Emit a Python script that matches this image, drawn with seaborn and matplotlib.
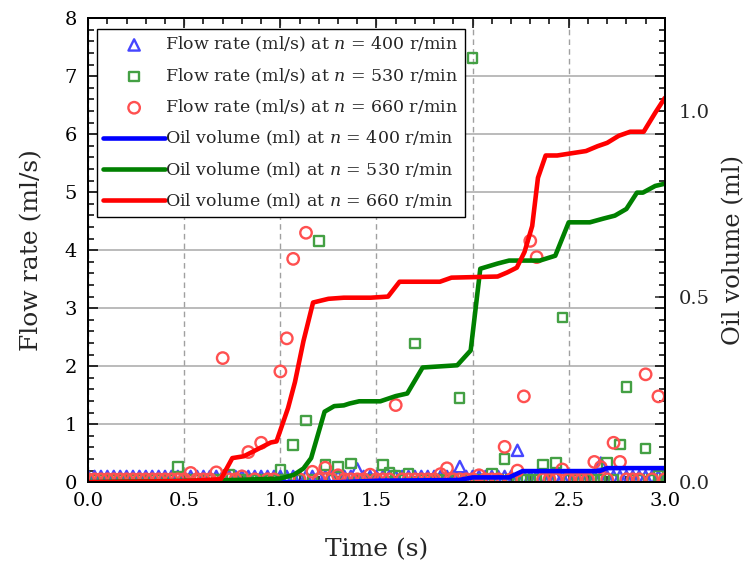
import numpy as np
import pandas as pd
import matplotlib
matplotlib.use("Agg")
import matplotlib.pyplot as plt
from matplotlib.ticker import MultipleLocator, FormatStrFormatter
import seaborn as sns

# Sampling instants of the flow-rate measurements (s)
time_s = np.linspace(0.0, 3.0, 91)

# Flow rate (ml/s) at each sampling instant
flow_400 = [
    0.1, 0.1, 0.1, 0.1, 0.1, 0.1, 0.1, 0.1, 0.1, 0.1,
    0.1, 0.1, 0.1, 0.1, 0.1, 0.1, 0.1, 0.1, 0.1, 0.1,
    0.1, 0.1, 0.1, 0.1, 0.1, 0.1, 0.1, 0.1, 0.1, 0.1,
    0.1, 0.1, 0.1, 0.1, 0.1, 0.1, 0.1, 0.1, 0.1, 0.1,
    0.1, 0.1, 0.23, 0.1, 0.1, 0.1, 0.1, 0.1, 0.1, 0.1,
    0.1, 0.1, 0.1, 0.1, 0.1, 0.1, 0.1, 0.1, 0.27, 0.1,
    0.1, 0.1, 0.1, 0.1, 0.1, 0.1, 0.1, 0.55, 0.1, 0.1,
    0.1, 0.1, 0.1, 0.1, 0.1, 0.1, 0.1, 0.1, 0.1, 0.1,
    0.33, 0.1, 0.1, 0.1, 0.1, 0.1, 0.1, 0.1, 0.1, 0.1,
    0.1,
]
flow_530 = [
    0.05, 0.05, 0.05, 0.05, 0.05, 0.05, 0.05, 0.05, 0.05, 0.05,
    0.05, 0.05, 0.05, 0.05, 0.26, 0.05, 0.05, 0.05, 0.05, 0.05,
    0.05, 0.05, 0.13, 0.05, 0.05, 0.05, 0.05, 0.05, 0.05, 0.05,
    0.21, 0.05, 0.64, 0.05, 1.06, 0.05, 4.16, 0.30, 0.05, 0.26,
    0.05, 0.32, 0.05, 0.05, 0.05, 0.05, 0.30, 0.17, 0.12, 0.05,
    0.15, 2.39, 0.05, 0.05, 0.05, 0.05, 0.05, 0.05, 1.45, 0.05,
    7.31, 0.05, 0.05, 0.15, 0.05, 0.40, 0.05, 0.05, 0.05, 0.05,
    0.05, 0.31, 0.05, 0.33, 2.84, 0.05, 0.05, 0.05, 0.05, 0.05,
    0.05, 0.33, 0.05, 0.65, 1.64, 0.05, 0.05, 0.58, 0.05, 0.12,
    0.05,
]
flow_660 = [
    0.05, 0.05, 0.05, 0.05, 0.05, 0.05, 0.05, 0.05, 0.05, 0.05,
    0.05, 0.05, 0.05, 0.05, 0.05, 0.05, 0.16, 0.05, 0.05, 0.05,
    0.17, 2.14, 0.05, 0.05, 0.10, 0.52, 0.05, 0.68, 0.05, 0.05,
    1.91, 2.48, 3.85, 0.05, 4.30, 0.18, 0.05, 0.25, 0.05, 0.12,
    0.05, 0.05, 0.05, 0.05, 0.13, 0.05, 0.05, 0.05, 1.33, 0.05,
    0.05, 0.05, 0.05, 0.05, 0.05, 0.14, 0.24, 0.05, 0.05, 0.05,
    0.05, 0.12, 0.05, 0.05, 0.05, 0.61, 0.05, 0.20, 1.48, 4.16,
    3.88, 0.05, 0.05, 0.05, 0.22, 0.05, 0.05, 0.05, 0.05, 0.35,
    0.26, 0.05, 0.68, 0.35, 0.05, 0.05, 0.05, 1.86, 0.05, 1.48,
    0.05,
]

# Accumulated oil volume (ml)
vol_t_400 = [0.0, 1.30, 1.50, 1.93, 2.00, 2.19, 2.26, 2.66, 2.70, 3.00]
vol_400 = [0.0, 0.0, 0.004, 0.006, 0.013, 0.013, 0.030, 0.030, 0.038, 0.038]

vol_t_530 = [0.0, 0.70, 1.00, 1.07, 1.12, 1.16, 1.23, 1.28, 1.33, 1.36, 1.41,
             1.52, 1.60, 1.66, 1.74, 1.92, 1.99, 2.04, 2.13, 2.19, 2.35, 2.43,
             2.50, 2.61, 2.68, 2.74, 2.80, 2.855, 2.886, 2.95, 3.00]
vol_530 = [0.0, 0.005, 0.010, 0.020, 0.037, 0.065, 0.190, 0.205, 0.207, 0.212,
           0.218, 0.218, 0.232, 0.239, 0.309, 0.315, 0.355, 0.575, 0.589, 0.597,
           0.597, 0.610, 0.700, 0.700, 0.710, 0.718, 0.736, 0.780, 0.780, 0.798,
           0.804]

vol_t_660 = [0.0, 0.50, 0.69, 0.75, 0.81, 0.95, 0.98, 1.00, 1.04, 1.076, 1.12,
             1.17, 1.25, 1.33, 1.47, 1.56, 1.62, 1.83, 1.89, 2.13, 2.18, 2.23,
             2.27, 2.31, 2.34, 2.38, 2.44, 2.59, 2.65, 2.70, 2.76, 2.82, 2.89,
             2.95, 3.00]
vol_660 = [0.0, 0.003, 0.008, 0.065, 0.070, 0.107, 0.110, 0.140, 0.200, 0.270,
           0.380, 0.484, 0.494, 0.497, 0.497, 0.500, 0.540, 0.540, 0.551, 0.554,
           0.565, 0.578, 0.620, 0.690, 0.820, 0.880, 0.880, 0.892, 0.905, 0.914,
           0.933, 0.944, 0.944, 0.995, 1.035]

speeds = ["400", "530", "660"]

sns.set_theme(style="ticks")
plt.rcParams["font.family"] = ["DejaVu Serif"]
plt.rcParams["mathtext.fontset"] = "dejavuserif"

fig = plt.figure(figsize=(7.47, 5.66), dpi=100)
ax = fig.add_axes([0.118, 0.148, 0.772, 0.820])
ax2 = ax.twinx()

flow_df = pd.DataFrame({"t": time_s, "f400": flow_400, "f530": flow_530, "f660": flow_660})

marker_styles = [
    ("f400", "^", "#4646ff", 66),
    ("f530", "s", "#44a044", 46),
    ("f660", "o", "#ff5050", 68),
]
for (col, mk, colr, sz), sp in zip(marker_styles, speeds):
    sns.scatterplot(data=flow_df, x="t", y=col, ax=ax, marker=mk, s=sz,
                    facecolor="none", edgecolor=colr, linewidth=1.7,
                    label=f"Flow rate (ml/s) at $n$ = {sp} r/min", legend=False,
                    zorder=3)

line_sets = [
    (vol_t_400, vol_400, "#0000ff"),
    (vol_t_530, vol_530, "#008000"),
    (vol_t_660, vol_660, "#ff0000"),
]
for (tt, vv, colr), sp in zip(line_sets, speeds):
    sns.lineplot(x=tt, y=vv, ax=ax2, color=colr, linewidth=3.3,
                 label=f"Oil volume (ml) at $n$ = {sp} r/min", legend=False)

ax.set_xlim(0, 3.0)
ax.set_ylim(0, 8)
ax2.set_ylim(0, 1.25)

ax.xaxis.set_major_locator(MultipleLocator(0.5))
ax.xaxis.set_minor_locator(MultipleLocator(0.1))
ax.xaxis.set_major_formatter(FormatStrFormatter("%.1f"))
ax.yaxis.set_major_locator(MultipleLocator(1))
ax.yaxis.set_minor_locator(MultipleLocator(0.2))
ax2.yaxis.set_major_locator(MultipleLocator(0.5))
ax2.yaxis.set_major_formatter(FormatStrFormatter("%.1f"))

ax.set_axisbelow(True)
ax.yaxis.grid(True, color="#a8a8a8", linewidth=1.1, linestyle="-")
ax.xaxis.grid(True, color="#a0a0a0", linewidth=1.0, linestyle=(0, (4, 3)))

ax.tick_params(which="both", direction="in", top=True, right=True,
               labelsize=14, colors="black", width=1.1)
ax.tick_params(which="major", length=7)
ax.tick_params(which="minor", length=4)
ax.tick_params(axis="x", which="major", pad=7)
ax.tick_params(axis="y", which="major", pad=8)
ax2.tick_params(which="major", direction="in", length=7, width=1.1,
                labelsize=14, pad=10)

for a in (ax, ax2):
    for sp_ in a.spines.values():
        sp_.set_linewidth(1.4)
        sp_.set_color("black")

ax.set_xlabel("Time (s)", fontsize=18, labelpad=20)
ax.set_ylabel("Flow rate (ml/s)", fontsize=18, labelpad=15)
ax2.set_ylabel("Oil volume (ml)", fontsize=17.5, labelpad=9)

h1, l1 = ax.get_legend_handles_labels()
h2, l2 = ax2.get_legend_handles_labels()
leg = ax2.legend(h1 + h2, l1 + l2, loc="upper left",
                 bbox_to_anchor=(0.015, 0.977), fontsize=12.5, frameon=True,
                 fancybox=False, framealpha=1, edgecolor="black",
                 handlelength=3.6, handletextpad=0.0, labelspacing=0.7,
                 borderpad=0.35, borderaxespad=0)
leg.get_frame().set_linewidth(1.0)

fig.savefig("out.png", dpi=100)
